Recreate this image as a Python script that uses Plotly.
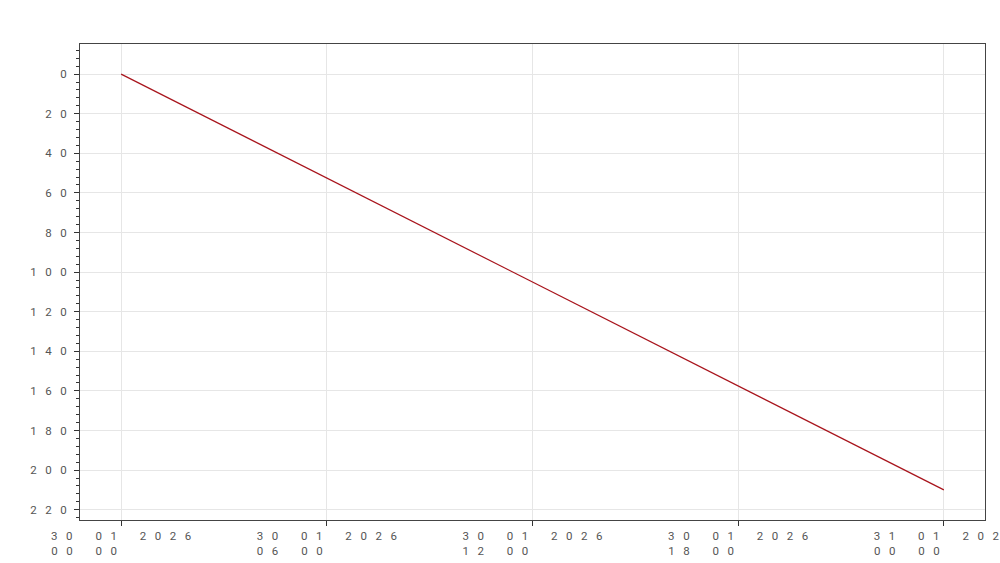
import plotly.graph_objects as go

# ---- data ----
times = ["2026-01-30 00:00", "2026-01-31 00:00"]
values = [0, 210]

x_tick_dates = ["2026-01-30 00:00", "2026-01-30 06:00", "2026-01-30 12:00",
                "2026-01-30 18:00", "2026-01-31 00:00"]
x_tick_line1 = ["30 01 2026", "30 01 2026", "30 01 2026", "30 01 2026", "31 01 2026"]
x_tick_line2 = ["00 00", "06 00", "12 00", "18 00", "00 00"]

y_tick_vals = [0, 20, 40, 60, 80, 100, 120, 140, 160, 180, 200, 220]
y_tick_text = ["0", "20", "40", "60", "80", "100", "120", "140", "160", "180", "200", "220"]

NB = "\u00a0"
JOIN = NB * 3
BLANK = NB * 2
DIGIT_W, SPACE_W = 1150, 507  # Roboto advance widths (units per em 2048)


def spaced(s):
    return JOIN.join(BLANK if c == " " else c for c in s)


def width(s):
    return sum(SPACE_W if c == NB else DIGIT_W for c in s)


x_ticktext = []
for a, b in zip(x_tick_line1, x_tick_line2):
    l1 = spaced(a)
    l2 = spaced(b)
    pad = round((width(l1) - width(l2)) / SPACE_W)
    x_ticktext.append(l1 + "<br>" + l2 + NB * pad)

y_ticktext = [spaced(t) for t in y_tick_text]

FONT = dict(family="Roboto, Arial, sans-serif", size=11.5, color="#555555")

fig = go.Figure()
fig.add_trace(go.Scatter(x=times, y=values, mode="lines",
                         line=dict(color="#a8141c", width=1.2), showlegend=False))

fig.update_layout(
    width=1000, height=563,
    margin=dict(l=80, r=15, t=44, b=43),
    paper_bgcolor="white", plot_bgcolor="white",
    font=FONT,
)
fig.update_xaxes(
    type="date",
    range=["2026-01-29 22:48", "2026-01-31 01:12"],
    tickmode="array", tickvals=x_tick_dates, ticktext=x_ticktext,
    tickfont=FONT, automargin=False, ticklabeloverflow="allow",
    showgrid=True, gridcolor="#e6e6e6", gridwidth=1,
    showline=True, linecolor="#444444", linewidth=1, mirror=True,
    ticks="outside", ticklen=5, tickcolor="#333333",
    zeroline=False,
)
fig.update_yaxes(
    range=[225.2, -15.2],
    tickmode="array", tickvals=y_tick_vals, ticktext=y_ticktext,
    tickfont=FONT, automargin=False, ticklabelstandoff=5,
    showgrid=True, gridcolor="#e6e6e6", gridwidth=1,
    showline=True, linecolor="#444444", linewidth=1, mirror=True,
    ticks="outside", ticklen=5, tickcolor="#333333",
    minor=dict(dtick=4, tick0=0, ticks="outside", ticklen=3, tickcolor="#333333", showgrid=False),
    zeroline=False,
)

fig.write_html("out.html", config={"displayModeBar": False},
               post_script="document.body.style.margin='0';")
